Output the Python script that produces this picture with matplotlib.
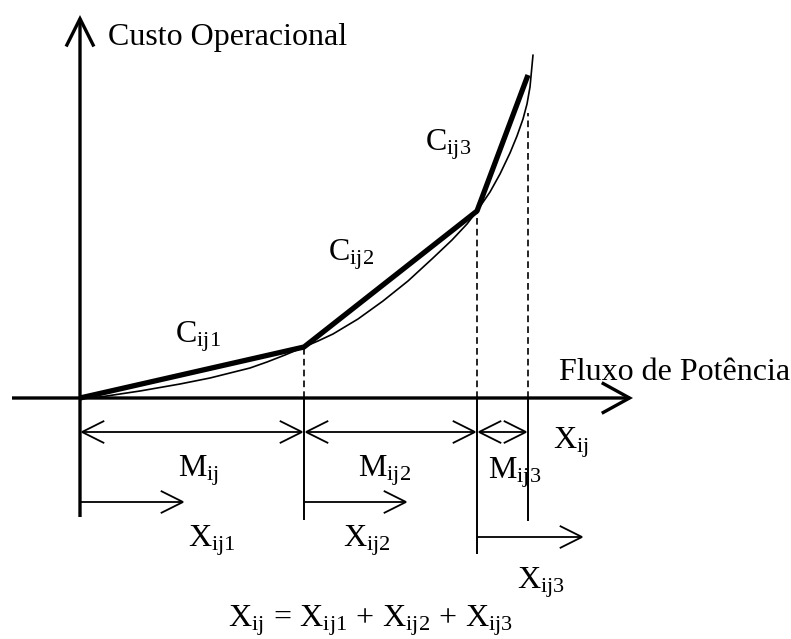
import matplotlib
matplotlib.use("Agg")
import matplotlib.pyplot as plt
from matplotlib.patches import FancyArrowPatch

plt.rcParams["font.family"] = ["Liberation Serif", "DejaVu Serif"]
plt.rcParams["mathtext.fontset"] = "custom"
plt.rcParams["mathtext.rm"] = "Liberation Serif"
plt.rcParams["mathtext.it"] = "Liberation Serif:italic"

# breakpoints of the piecewise linear approximation (flow, cost)
break_x = [0, 224, 397, 448]
break_y = [0, 51, 187, 323]

# true operating cost curve
curve_x = [0, 20, 40, 60, 100, 130, 150, 170, 187, 205, 224, 238, 253, 278,
           303, 328, 353, 372, 387, 397, 410, 420, 430, 437, 443, 447, 450, 453]
curve_y = [0, 1, 4, 7, 14, 20, 25, 30, 36, 43, 51, 57, 64, 79,
           97, 117, 140, 158, 174, 187, 206, 224, 245, 262, 279, 294, 311, 343]

# dashed guide tops and solid drop depths per breakpoint
guide_x = [224, 397, 448]
guide_top = [51, 187, 285]
guide_bottom = [-121, -155, -122]

# dimension rows
seg_edges = [0, 224, 397, 448]
m_row_y = -34
m_labels = [r"$\mathrm{M}_{\mathrm{ij}}$", r"$\mathrm{M}_{\mathrm{ij2}}$", r"$\mathrm{M}_{\mathrm{ij3}}$"]
m_label_x = [98, 278, 408]
m_label_y = [-79, -79, -80]

x_start = [0, 224, 397]
x_end = [105, 328, 504]
x_row_y = [-104, -104, -139]
x_labels = [r"$\mathrm{X}_{\mathrm{ij1}}$", r"$\mathrm{X}_{\mathrm{ij2}}$", r"$\mathrm{X}_{\mathrm{ij3}}$"]
x_label_x = [108, 263, 437]
x_label_y = [-149, -149, -190]

c_labels = [r"$\mathrm{C}_{\mathrm{ij1}}$", r"$\mathrm{C}_{\mathrm{ij2}}$", r"$\mathrm{C}_{\mathrm{ij3}}$"]
c_label_x = [95, 248, 345]
c_label_y = [55, 138, 248]

fig = plt.figure(figsize=(7.91, 6.39), dpi=100)
ax = fig.add_axes([0, 0, 1, 1])
ax.set_xlim(-80, 711)
ax.set_ylim(-241, 398)
ax.axis("off")


def arrow(x1, y1, x2, y2, style, lw, hl, hw):
    a = FancyArrowPatch((x1, y1), (x2, y2),
                        arrowstyle=f"{style},head_length={hl},head_width={hw}",
                        mutation_scale=1, lw=lw, color="black",
                        shrinkA=0, shrinkB=0, capstyle="butt", joinstyle="miter")
    ax.add_patch(a)


# axes with open arrow heads
arrow(-68, 0, 553, 0, "->", 2.4, 20, 11)
arrow(0, -119, 0, 383, "->", 2.4, 20, 10)

# cost curve and its linear segments
ax.plot(curve_x, curve_y, color="black", lw=1.2, solid_capstyle="round",
        solid_joinstyle="round")
ax.plot(break_x, break_y, color="black", lw=3.8, solid_joinstyle="round",
        solid_capstyle="butt")

# guides
for gx, gt, gb in zip(guide_x, guide_top, guide_bottom):
    ax.plot([gx, gx], [0, gt], color="black", lw=1.2, linestyle=(0, (4, 2.5)))
    ax.plot([gx, gx], [0, gb], color="black", lw=1.4)

# segment widths
for a0, a1 in zip(seg_edges[:-1], seg_edges[1:]):
    arrow(a0, m_row_y, a1, m_row_y, "<->", 1.3, 16, 8)
for s, e, yy in zip(x_start, x_end, x_row_y):
    arrow(s, yy, e, yy, "->", 1.3, 16, 8)

fs = 23
for lab, lx, ly in zip(c_labels, c_label_x, c_label_y):
    ax.text(lx, ly, lab, fontsize=fs, ha="left", va="baseline")
for lab, lx, ly in zip(m_labels, m_label_x, m_label_y):
    ax.text(lx, ly, lab, fontsize=fs, ha="left", va="baseline")
for lab, lx, ly in zip(x_labels, x_label_x, x_label_y):
    ax.text(lx, ly, lab, fontsize=fs, ha="left", va="baseline")

ax.text(473, -50, r"$\mathrm{X}_{\mathrm{ij}}$", fontsize=fs, ha="left", va="baseline")
ax.text(28, 353, "Custo Operacional", fontsize=fs, ha="left", va="baseline")
ax.text(479, 18, "Fluxo de Potência", fontsize=fs, ha="left", va="baseline")
ax.text(148, -228,
        r"$\mathrm{X}_{\mathrm{ij}}\,=\,\mathrm{X}_{\mathrm{ij1}}\,+\,\mathrm{X}_{\mathrm{ij2}}\,+\,\mathrm{X}_{\mathrm{ij3}}$",
        fontsize=fs, ha="left", va="baseline")

fig.savefig("out.png", dpi=100)
